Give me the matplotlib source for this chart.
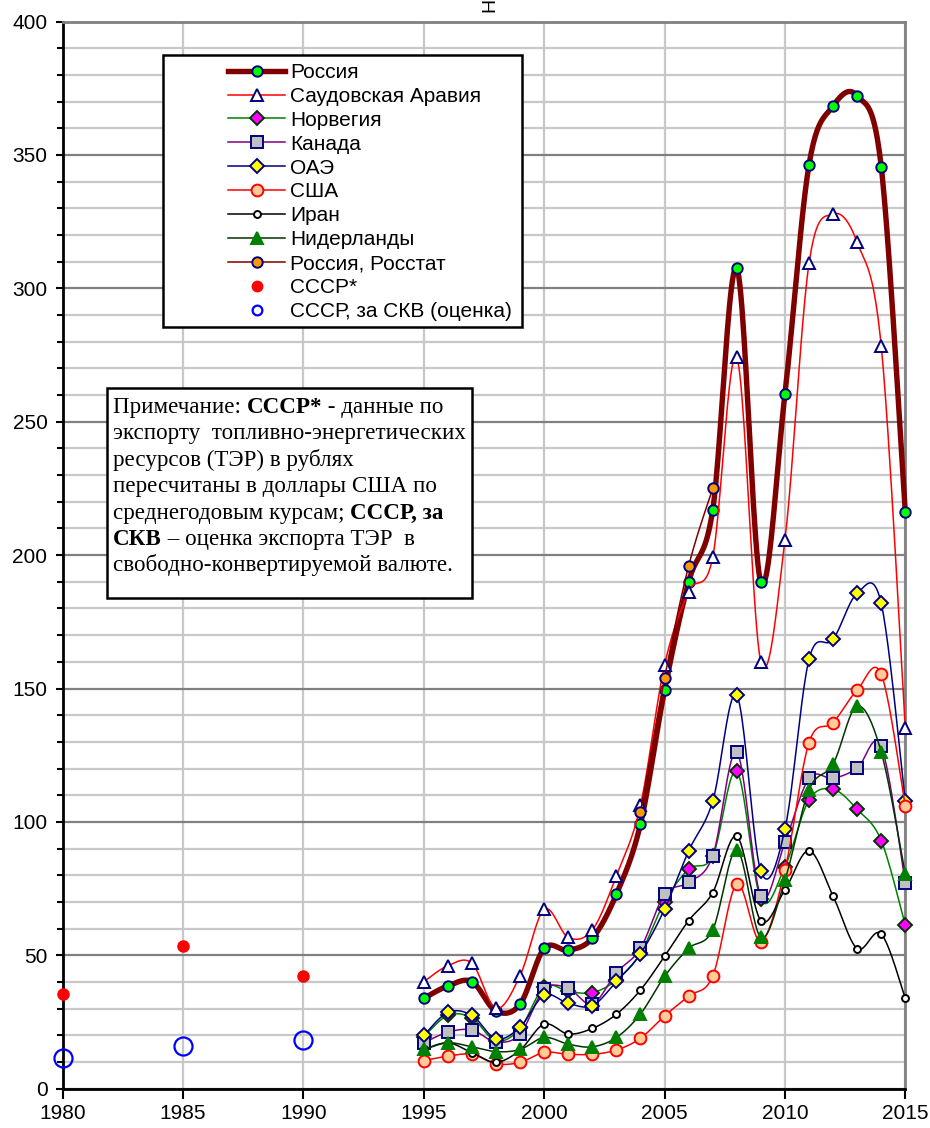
import matplotlib
matplotlib.use('Agg')
import matplotlib.pyplot as plt
import numpy as np
from matplotlib.lines import Line2D
from matplotlib.patches import Rectangle
from matplotlib.transforms import IdentityTransform

plt.rcParams['font.family'] = ['Liberation Sans', 'DejaVu Sans']

# ---- data, млрд долл.
years = list(range(1995, 2016))
russia = [33.9, 38.5, 40.1, 29.1, 31.7, 52.6, 51.9, 56.4, 72.9, 99.2, 149.4,
          190.0, 216.9, 307.5, 189.8, 260.4, 346.3, 368.3, 372.1, 345.6, 216.0]
saudi = [40.1, 46.1, 47.0, 30.1, 42.4, 67.2, 56.7, 59.5, 79.8, 106.2, 158.8,
         186.3, 199.2, 274.1, 160.0, 205.6, 309.3, 327.8, 317.2, 278.4, 135.3]
norway = [19.5, 27.5, 26.5, 17.9, 22.6, 38.2, 36.5, 36.0, 40.7, 50.7, 70.0,
          82.3, 87.2, 118.9, 71.0, 83.2, 108.2, 112.2, 104.7, 93.0, 61.3]
canada = [17.2, 21.2, 22.0, 17.5, 20.5, 37.2, 37.6, 31.7, 43.5, 52.6, 72.8,
          77.3, 87.2, 126.1, 72.2, 92.3, 116.3, 116.3, 120.1, 128.4, 77.2]
uae = [20.0, 28.6, 27.5, 18.7, 23.1, 35.0, 32.0, 31.1, 40.2, 50.6, 67.3,
       89.1, 107.7, 147.4, 81.5, 97.2, 160.9, 168.4, 185.7, 181.9, 107.7]
usa = [10.5, 12.2, 12.9, 9.3, 9.9, 13.6, 12.9, 12.9, 14.5, 18.9, 27.3,
       34.7, 42.2, 76.7, 55.1, 82.0, 129.7, 137.2, 149.4, 155.4, 106.0]
iran = [14.7, 17.2, 13.5, 9.9, 14.5, 24.2, 20.5, 22.6, 27.9, 37.0, 49.6,
        63.0, 73.5, 94.6, 63.0, 74.5, 89.2, 72.2, 52.5, 58.0, 33.9]
netherlands = [14.7, 17.2, 15.7, 13.9, 14.7, 19.2, 16.7, 15.7, 19.2, 28.0, 42.1,
               52.6, 59.5, 89.5, 56.7, 78.2, 112.0, 121.7, 143.4, 126.2, 80.4]
rosstat_years = [2004, 2005, 2006, 2007]
rosstat = [103.6, 153.9, 195.9, 225.0]
ussr_years = [1980, 1985, 1990]
ussr = [35.4, 53.4, 42.1]
ussr_skv = [11.5, 16.0, 18.2]

labels = ['Россия', 'Саудовская Аравия', 'Норвегия', 'Канада', 'ОАЭ', 'США',
          'Иран', 'Нидерланды', 'Россия, Росстат', 'СССР*', 'СССР, за СКВ (оценка)']

W, H = 930, 1128


def smooth(x, y, n=24):
    # excel-like smoothed line (catmull-rom bezier)
    p = np.column_stack([x, y]).astype(float)
    p = np.vstack([p[0], p, p[-1]])
    t = np.linspace(0, 1, n)[:, None]
    out = []
    for i in range(len(p) - 3):
        p0, p1, p2, p3 = p[i], p[i + 1], p[i + 2], p[i + 3]
        c1 = p1 + (p2 - p0) / 6.0
        c2 = p2 - (p3 - p1) / 6.0
        seg = ((1 - t) ** 3) * p1 + 3 * ((1 - t) ** 2) * t * c1 + 3 * (1 - t) * t ** 2 * c2 + t ** 3 * p2
        out.append(seg if i == 0 else seg[1:])
    out = np.vstack(out)
    return out[:, 0], out[:, 1]


fig = plt.figure(figsize=(9.3, 11.28), dpi=100)
ax = fig.add_axes([62.7 / W, 1 - 1088.7 / H, (905.3 - 62.7) / W, (1088.7 - 21.5) / H])

styles = [
    # data, line color, lw, marker, ms, face, edge
    (russia, '#800000', 3.9, 'o', 7.5, '#00ff00', '#000080'),
    (saudi, '#ff0000', 1.1, '^', 9, 'white', '#000080'),
    (norway, '#008000', 1.1, 'D', 7.5, '#ff00ff', '#003300'),
    (canada, '#800080', 1.1, 's', 8, '#c0c0c0', '#000080'),
    (uae, '#000080', 1.1, 'D', 7.5, '#ffff00', '#000080'),
    (usa, '#ff0000', 1.1, 'o', 8.5, '#ffcc99', '#ff0000'),
    (iran, '#000000', 1.1, 'o', 5, 'white', '#000000'),
    (netherlands, '#003300', 1.1, '^', 9, '#008000', '#008000'),
]

handles = []
for k, (vals, col, lw, mk, ms, fc, ec) in enumerate(styles):
    sx, sy = smooth(years, vals)
    ax.plot(sx, sy, color=col, lw=lw, zorder=3 + k * 0.1, clip_on=False,
            solid_capstyle='round', solid_joinstyle='round')
    ax.plot(years, vals, ls='none', marker=mk, ms=ms, mfc=fc, mec=ec, mew=1.4,
            zorder=3.05 + k * 0.1, clip_on=False)
    handles.append(Line2D([], [], color=col, lw=lw, marker=mk, ms=ms, mfc=fc, mec=ec, mew=1.4))

sx, sy = smooth(rosstat_years, rosstat)
ax.plot(sx, sy, color='#800000', lw=1.1, zorder=4, clip_on=False)
ax.plot(rosstat_years, rosstat, ls='none', marker='o', ms=7.5, mfc='#ff9900', mec='#000080',
        mew=1.4, zorder=4.05, clip_on=False)
handles.append(Line2D([], [], color='#800000', lw=1.1, marker='o', ms=7.5, mfc='#ff9900',
                      mec='#000080', mew=1.4))

ax.plot(ussr_years, ussr, ls='none', marker='o', ms=8, mfc='#ff0000', mec='#ff0000',
        zorder=4, clip_on=False)
ax.plot(ussr_years, ussr_skv, ls='none', marker='o', ms=13, mfc='none', mec='#0000ff',
        mew=1.6, zorder=4, clip_on=False)
handles.append(Line2D([], [], ls='none', marker='o', ms=7.5, mfc='#ff0000', mec='#ff0000'))
handles.append(Line2D([], [], ls='none', marker='o', ms=7, mfc='none', mec='#0000ff', mew=1.6))

# axes
ax.set_xlim(1980, 2015)
ax.set_ylim(0, 400)
ax.set_xticks(range(1980, 2016, 5))
ax.set_yticks(range(0, 401, 50))
ax.set_yticks([v for v in range(0, 401, 10) if v % 50], minor=True)
ax.tick_params(axis='both', which='major', labelsize=15, width=1.5, direction='out')
ax.tick_params(axis='x', which='major', length=7, pad=4)
ax.tick_params(axis='y', which='major', length=5, pad=6)
ax.tick_params(axis='y', which='minor', length=4, width=1.5)
ax.set_axisbelow(True)
ax.yaxis.grid(True, which='minor', color='#c8c8c8', lw=1.6)
ax.yaxis.grid(True, which='major', color='#808080', lw=1.6)
ax.xaxis.grid(True, which='major', color='#c8c8c8', lw=1.6)
for s in ['left', 'bottom']:
    ax.spines[s].set_linewidth(2)
    ax.spines[s].set_color('black')
for s in ['top', 'right']:
    ax.spines[s].set_linewidth(2)
    ax.spines[s].set_color('#808080')

# legend
fig.add_artist(Rectangle((163, H - 327), 359, 272, transform=IdentityTransform(),
                         facecolor='white', edgecolor='black', lw=1.8, zorder=2))
leg = fig.legend(handles, labels, loc='upper left', bbox_to_anchor=(228 / W, 1 - 63 / H),
                 bbox_transform=fig.transFigure, frameon=False, fontsize=15, borderpad=0,
                 handlelength=2.74, handletextpad=0.24, labelspacing=0.235, numpoints=1,
                 borderaxespad=0)
leg.set_zorder(5)

# note box
fig.add_artist(Rectangle((107, H - 598), 365, 210, transform=IdentityTransform(),
                         facecolor='white', edgecolor='black', lw=1.8, zorder=2))
note = [
    [('Примечание: ', False), ('СССР*', True), (' - данные по', False)],
    [('экспорту  топливно-энергетических', False)],
    [('ресурсов (ТЭР) в рублях', False)],
    [('пересчитаны в доллары США по', False)],
    [('среднегодовым курсам; ', False), ('СССР, за', True)],
    [('СКВ', True), (' – оценка экспорта ТЭР  в', False)],
    [('свободно-конвертируемой валюте.', False)],
]
renderer = fig.canvas.get_renderer()
serif = ['Liberation Serif', 'DejaVu Serif']
note_fs = 16.6


def text_width(s, bold):
    a = fig.text(0, 0, s + '|', fontsize=note_fs, family=serif,
                 fontweight='bold' if bold else 'normal', transform=IdentityTransform())
    b = fig.text(0, 0, '|', fontsize=note_fs, family=serif,
                 fontweight='bold' if bold else 'normal', transform=IdentityTransform())
    w = a.get_window_extent(renderer).width - b.get_window_extent(renderer).width
    a.remove()
    b.remove()
    return w


for i, parts in enumerate(note):
    x = 113
    y = H - (413 + i * 26.4)
    for s, bold in parts:
        fig.text(x, y, s, fontsize=note_fs, family=serif, fontweight='bold' if bold else 'normal',
                 transform=IdentityTransform(), va='baseline', ha='left', zorder=6)
        x += text_width(s, bold)

# clipped axis title at the very top
fig.text(490 / W, 1 - 5 / H, 'Н', rotation=90, fontsize=14, ha='center', va='center')

fig.savefig('out.png', dpi=100)
